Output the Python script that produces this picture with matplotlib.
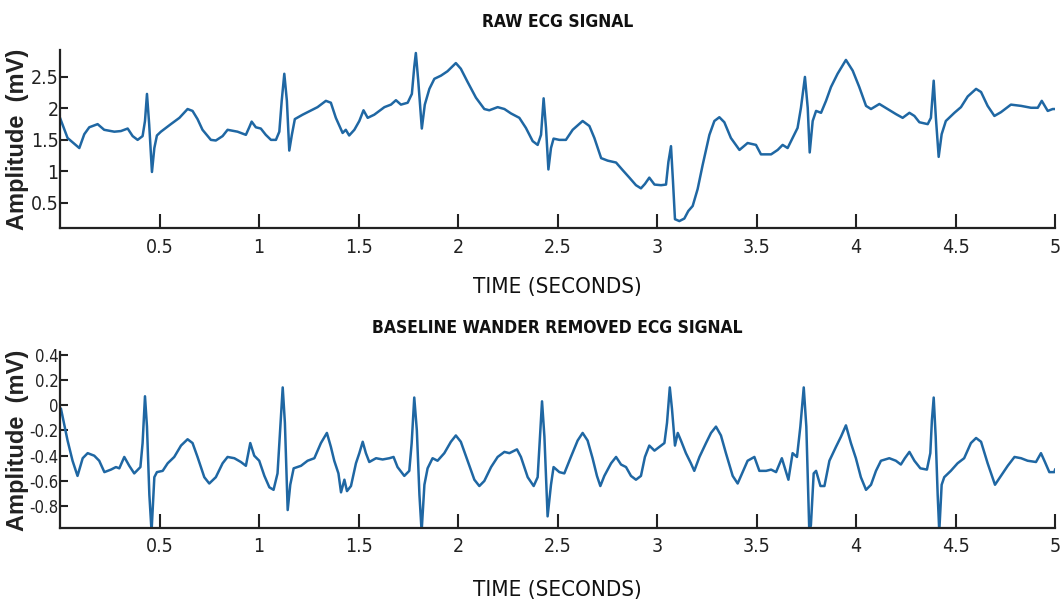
import matplotlib
matplotlib.use("Agg")
import matplotlib.pyplot as plt
from matplotlib import font_manager

# ---------------- data ----------------
raw_t = [0.0, 0.038, 0.097, 0.122, 0.147, 0.189, 0.222, 0.273, 0.306, 0.34, 0.365, 0.39, 0.415,
         0.427, 0.437, 0.448, 0.462, 0.474, 0.487, 0.507, 0.557, 0.60, 0.641, 0.666, 0.691, 0.716,
         0.758, 0.783, 0.817, 0.842, 0.892, 0.934, 0.951, 0.963, 0.984, 1.009, 1.034, 1.06, 1.085,
         1.102, 1.114, 1.127, 1.14, 1.152, 1.165, 1.18, 1.219, 1.244, 1.294, 1.336, 1.361, 1.386,
         1.42, 1.436, 1.453, 1.479, 1.504, 1.525, 1.546, 1.579, 1.63, 1.663, 1.688, 1.713, 1.747,
         1.768, 1.78, 1.788, 1.80, 1.818, 1.833, 1.856, 1.881, 1.914, 1.947, 1.989, 2.014, 2.048,
         2.09, 2.132, 2.157, 2.199, 2.233, 2.266, 2.308, 2.341, 2.375, 2.40, 2.417, 2.43, 2.442,
         2.454, 2.467, 2.48, 2.509, 2.542, 2.576, 2.626, 2.66, 2.685, 2.719, 2.752, 2.794, 2.827,
         2.861, 2.894, 2.919, 2.939, 2.961, 2.987, 3.02, 3.045, 3.057, 3.07, 3.08, 3.09, 3.112,
         3.137, 3.157, 3.179, 3.204, 3.229, 3.263, 3.288, 3.313, 3.338, 3.371, 3.414, 3.455, 3.497,
         3.522, 3.573, 3.606, 3.631, 3.656, 3.681, 3.706, 3.723, 3.743, 3.757, 3.767, 3.782, 3.799,
         3.824, 3.849, 3.874, 3.907, 3.949, 3.983, 4.016, 4.05, 4.075, 4.117, 4.159, 4.2, 4.234,
         4.268, 4.293, 4.318, 4.36, 4.376, 4.39, 4.401, 4.415, 4.43, 4.451, 4.494, 4.527, 4.561,
         4.603, 4.628, 4.661, 4.695, 4.728, 4.778, 4.829, 4.879, 4.913, 4.933, 4.963, 4.988, 5.0]
raw_v = [1.85, 1.53, 1.37, 1.59, 1.70, 1.75, 1.66, 1.63, 1.64, 1.68, 1.56, 1.50, 1.56,
         1.80, 2.23, 1.75, 0.99, 1.37, 1.57, 1.63, 1.75, 1.85, 1.99, 1.96, 1.83, 1.66,
         1.50, 1.49, 1.56, 1.66, 1.63, 1.58, 1.70, 1.79, 1.70, 1.68, 1.58, 1.50, 1.50,
         1.63, 2.12, 2.55, 2.12, 1.33, 1.58, 1.83, 1.90, 1.94, 2.02, 2.12, 2.09, 1.85,
         1.61, 1.66, 1.57, 1.66, 1.80, 1.97, 1.85, 1.90, 2.02, 2.06, 2.13, 2.06, 2.09,
         2.23, 2.66, 2.88, 2.44, 1.68, 2.06, 2.31, 2.47, 2.52, 2.59, 2.72, 2.63, 2.42,
         2.17, 1.99, 1.97, 2.02, 1.99, 1.92, 1.85, 1.69, 1.48, 1.42, 1.58, 2.16, 1.69,
         1.03, 1.37, 1.52, 1.50, 1.50, 1.66, 1.80, 1.72, 1.53, 1.21, 1.17, 1.14, 1.02,
         0.90, 0.78, 0.73, 0.80, 0.90, 0.79, 0.78, 0.79, 1.15, 1.40, 0.84, 0.24, 0.21,
         0.25, 0.37, 0.45, 0.72, 1.10, 1.58, 1.80, 1.86, 1.78, 1.53, 1.34, 1.45, 1.42,
         1.27, 1.27, 1.34, 1.42, 1.37, 1.53, 1.69, 2.01, 2.50, 2.01, 1.30, 1.80, 1.96,
         1.93, 2.12, 2.34, 2.55, 2.77, 2.60, 2.34, 2.04, 1.99, 2.07, 1.99, 1.91, 1.85,
         1.93, 1.88, 1.78, 1.75, 1.85, 2.44, 1.85, 1.23, 1.59, 1.80, 1.93, 2.02, 2.19,
         2.31, 2.26, 2.04, 1.88, 1.94, 2.06, 2.04, 2.01, 2.01, 2.12, 1.96, 1.99, 1.99]

clean_t = [0.005, 0.038, 0.063, 0.088, 0.114, 0.139, 0.172, 0.197, 0.223, 0.256, 0.281, 0.298,
           0.323, 0.348, 0.373, 0.404, 0.415, 0.427, 0.437, 0.449, 0.46, 0.474, 0.487, 0.516,
           0.541, 0.574, 0.608, 0.641, 0.666, 0.691, 0.725, 0.75, 0.783, 0.817, 0.842, 0.876,
           0.909, 0.934, 0.956, 0.976, 1.001, 1.027, 1.052, 1.073, 1.093, 1.107, 1.119, 1.13,
           1.144, 1.157, 1.174, 1.211, 1.244, 1.278, 1.311, 1.341, 1.361, 1.378, 1.399, 1.412,
           1.429, 1.442, 1.462, 1.487, 1.504, 1.521, 1.537, 1.554, 1.588, 1.621, 1.655, 1.676,
           1.696, 1.73, 1.755, 1.767, 1.78, 1.793, 1.806, 1.817, 1.831, 1.847, 1.872, 1.897,
           1.931, 1.964, 1.989, 2.014, 2.048, 2.082, 2.107, 2.132, 2.166, 2.199, 2.233, 2.258,
           2.296, 2.316, 2.35, 2.38, 2.40, 2.412, 2.422, 2.434, 2.45, 2.467, 2.48, 2.509,
           2.534, 2.567, 2.601, 2.626, 2.651, 2.676, 2.698, 2.715, 2.735, 2.769, 2.794, 2.819,
           2.844, 2.869, 2.894, 2.919, 2.939, 2.961, 2.987, 3.012, 3.037, 3.05, 3.064, 3.075,
           3.09, 3.104, 3.12, 3.145, 3.17, 3.187, 3.213, 3.246, 3.271, 3.296, 3.321, 3.346,
           3.38, 3.405, 3.43, 3.455, 3.489, 3.514, 3.548, 3.573, 3.598, 3.627, 3.66, 3.681,
           3.703, 3.72, 3.737, 3.75, 3.765, 3.773, 3.787, 3.799, 3.821, 3.841, 3.866, 3.899,
           3.924, 3.949, 3.974, 3.999, 4.024, 4.05, 4.075, 4.10, 4.125, 4.167, 4.20, 4.225,
           4.245, 4.268, 4.293, 4.323, 4.356, 4.373, 4.381, 4.39, 4.40, 4.41, 4.418, 4.43,
           4.443, 4.476, 4.51, 4.543, 4.577, 4.603, 4.628, 4.661, 4.698, 4.728, 4.762, 4.796,
           4.829, 4.862, 4.904, 4.929, 4.949, 4.971, 4.996, 5.0]
clean_v = [-0.03, -0.28, -0.44, -0.56, -0.42, -0.38, -0.40, -0.44, -0.53, -0.51, -0.49, -0.50,
           -0.41, -0.48, -0.54, -0.49, -0.30, 0.07, -0.17, -0.71, -1.0, -0.57, -0.53, -0.52,
           -0.46, -0.41, -0.32, -0.27, -0.30, -0.41, -0.57, -0.62, -0.57, -0.46, -0.41, -0.42,
           -0.45, -0.48, -0.30, -0.40, -0.44, -0.56, -0.65, -0.67, -0.54, -0.17, 0.14, -0.14,
           -0.83, -0.63, -0.50, -0.48, -0.44, -0.42, -0.30, -0.22, -0.33, -0.44, -0.54, -0.69,
           -0.59, -0.68, -0.64, -0.46, -0.38, -0.29, -0.38, -0.45, -0.42, -0.43, -0.42, -0.41,
           -0.49, -0.56, -0.52, -0.30, 0.06, -0.20, -0.71, -1.0, -0.63, -0.50, -0.42, -0.44,
           -0.38, -0.29, -0.24, -0.29, -0.44, -0.59, -0.64, -0.60, -0.49, -0.41, -0.37, -0.38,
           -0.35, -0.41, -0.57, -0.64, -0.57, -0.25, 0.03, -0.25, -0.88, -0.63, -0.49, -0.53,
           -0.54, -0.41, -0.28, -0.22, -0.28, -0.42, -0.56, -0.64, -0.56, -0.46, -0.41, -0.47,
           -0.49, -0.56, -0.59, -0.56, -0.41, -0.32, -0.36, -0.33, -0.30, -0.14, 0.14, -0.03,
           -0.32, -0.22, -0.28, -0.38, -0.46, -0.52, -0.41, -0.30, -0.22, -0.17, -0.24, -0.38,
           -0.56, -0.62, -0.53, -0.44, -0.41, -0.52, -0.52, -0.51, -0.53, -0.42, -0.59, -0.38,
           -0.41, -0.17, 0.14, -0.17, -1.0, -0.95, -0.54, -0.52, -0.64, -0.64, -0.44, -0.33,
           -0.25, -0.16, -0.30, -0.42, -0.57, -0.67, -0.63, -0.52, -0.44, -0.42, -0.44, -0.47,
           -0.42, -0.37, -0.44, -0.50, -0.51, -0.38, -0.12, 0.06, -0.25, -0.71, -1.0, -0.63,
           -0.57, -0.52, -0.46, -0.42, -0.30, -0.26, -0.29, -0.46, -0.63, -0.56, -0.48, -0.41,
           -0.42, -0.44, -0.45, -0.38, -0.45, -0.53, -0.53, -0.51]

x_ticks = [0.5, 1, 1.5, 2, 2.5, 3, 3.5, 4, 4.5, 5]
x_ticklabels = ["0.5", "1", "1.5", "2", "2.5", "3", "3.5", "4", "4.5", "5"]
raw_yticks = [0.5, 1, 1.5, 2, 2.5]
raw_yticklabels = ["0.5", "1", "1.5", "2", "2.5"]
clean_yticks = [-0.8, -0.6, -0.4, -0.2, 0, 0.2, 0.4]
clean_yticklabels = ["-0.8", "-0.6", "-0.4", "-0.2", "0", "0.2", "0.4"]

titles = ["RAW ECG SIGNAL", "BASELINE WANDER REMOVED ECG SIGNAL"]
xlabel = "TIME (SECONDS)"
ylabel = "Amplitude  (mV)"

# ---------------- fonts ----------------
names = {f.name for f in font_manager.fontManager.ttflist}
cond = [f for f in font_manager.fontManager.ttflist
        if f.name == "DejaVu Sans" and f.stretch in ("condensed", "semi-condensed")]
if cond:
    NARROW = dict(family=["DejaVu Sans"], stretch="condensed")
    XT_FS, YT_FS, TITLE_FS, XL_FS = 14, 12, 12.5, 16
elif "Liberation Sans Narrow" in names:
    NARROW = dict(family=["Liberation Sans Narrow", "DejaVu Sans"])
    XT_FS, YT_FS, TITLE_FS, XL_FS = 15, 13, 14, 17
else:
    NARROW = dict(family=["Liberation Sans", "DejaVu Sans"])
    XT_FS, YT_FS, TITLE_FS, XL_FS = 13, 11, 12, 15
WIDE = dict(family=["Liberation Sans", "DejaVu Sans"])
LINE = "#1f67a3"

fig = plt.figure(figsize=(10.62, 6.08), dpi=100)
ax1 = fig.add_axes([0.0565, 0.625, 0.937, 0.293])
ax2 = fig.add_axes([0.0565, 0.132, 0.937, 0.289])

panels = [
    (ax1, raw_t, raw_v, (0.1, 2.93), raw_yticks, raw_yticklabels, 0.963, 0.528, 0.77),
    (ax2, clean_t, clean_v, (-0.97, 0.42), clean_yticks, clean_yticklabels, 0.4605, 0.030, 0.276),
]

for i, (ax, t, v, ylim, yt, ytl, ty, xly, yly) in enumerate(panels):
    ax.plot(t, v, color=LINE, lw=1.8, solid_joinstyle="round")
    ax.set_xlim(0, 5)
    ax.set_ylim(*ylim)
    ax.spines["top"].set_visible(False)
    ax.spines["right"].set_visible(False)
    for s in ("left", "bottom"):
        ax.spines[s].set_linewidth(1.6)
        ax.spines[s].set_color("#222222")
    ax.set_xticks(x_ticks)
    ax.set_xticklabels(x_ticklabels, fontsize=XT_FS, color="#222222", **NARROW)
    ax.set_yticks(yt)
    ax.set_yticklabels(ytl, fontsize=YT_FS if i == 1 else XT_FS, color="#222222", **NARROW)
    ax.tick_params(axis="x", direction="in", length=10, width=1.5, pad=7, color="#222222")
    ax.tick_params(axis="y", direction="in", length=6, width=1.5, pad=1, color="#222222")
    fig.text(0.525, ty, titles[i], ha="center", va="center",
             fontsize=TITLE_FS, fontweight="bold", color="#111111", **NARROW)
    fig.text(0.525, xly, xlabel, ha="center", va="center",
             fontsize=XL_FS, color="#111111", **NARROW)
    fig.text(0.0165, yly, ylabel, ha="center", va="center", rotation=90,
             fontsize=17, fontweight="bold", color="#222222", **WIDE)

fig.savefig("out.png", dpi=100)
